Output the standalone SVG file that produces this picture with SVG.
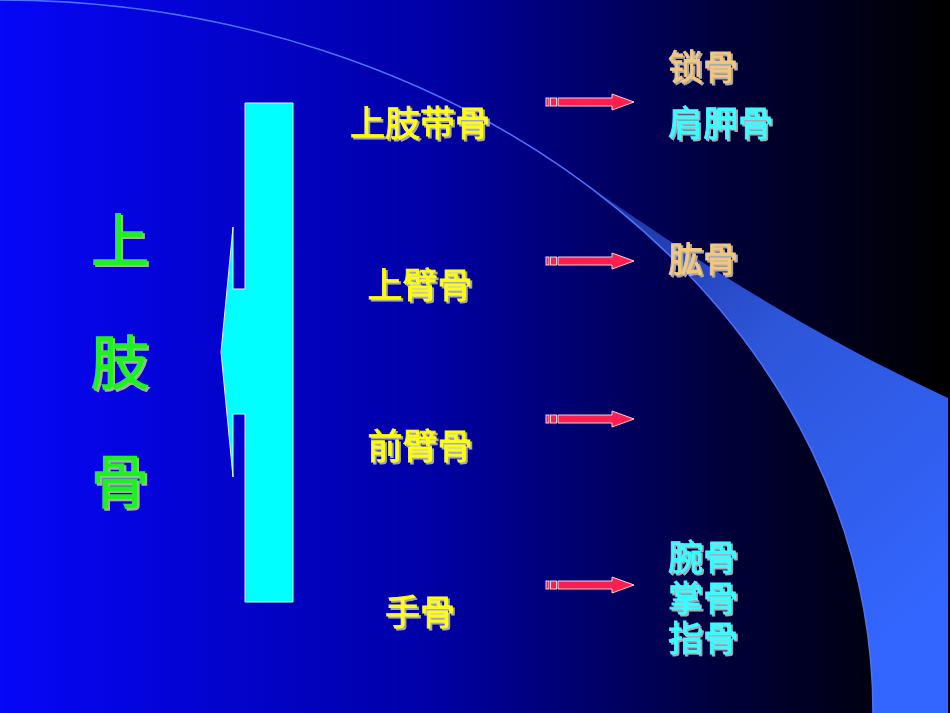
<svg xmlns="http://www.w3.org/2000/svg" width="950" height="713" viewBox="0 0 950 713">
<defs>
<linearGradient id="bg" x1="0" y1="0" x2="1" y2="0">
<stop offset="0" stop-color="#0606f8"/>
<stop offset="0.45" stop-color="#0000a6"/>
<stop offset="0.8" stop-color="#00002e"/>
<stop offset="1" stop-color="#000000"/>
</linearGradient>
<linearGradient id="wedge" x1="560" y1="160" x2="948" y2="600" gradientUnits="userSpaceOnUse">
<stop offset="0" stop-color="#1a2a90"/>
<stop offset="0.45" stop-color="#2d55d8"/>
<stop offset="1" stop-color="#3366ff"/>
</linearGradient>
<filter id="sh" x="-10%" y="-10%" width="130%" height="130%">
<feFlood flood-color="#a8a8b8"/>
<feComposite in2="SourceAlpha" operator="in"/>
<feOffset dx="2" dy="2" result="s"/>
<feMerge><feMergeNode in="s"/><feMergeNode in="SourceGraphic"/></feMerge>
</filter>
<style>
text{font-family:"Noto Sans CJK SC","Noto Sans CJK TC",sans-serif;font-weight:400;filter:url(#sh);stroke-width:0.9}
.big{font-size:58px;fill:#22ee22;stroke:#22ee22;text-anchor:middle;stroke-width:1.5}
.mid{font-size:35px;fill:#ffff00;stroke:#ffff00;text-anchor:middle}
.tan{font-size:35px;fill:#f2c87a;stroke:#f2c87a}
.cy{font-size:35px;fill:#33ffff;stroke:#33ffff}
.arr{fill:#ff1e50;stroke:#ffd0dc;stroke-width:1}
</style>
</defs>
<rect width="950" height="713" fill="url(#bg)"/>
<path d="M555,163 C640,220 760,310 948,398 L948,713 L873,713 A873,713 0 0 0 555,163 Z" fill="url(#wedge)"/>
<path d="M0,0 A873,713 0 0 1 873,713" fill="none" stroke="#4a72ff" stroke-width="1.5"/>

<g id="bracket">
<polygon points="245,103 293,103 293,602 245,602 245,414 233,414 233,477 221,352 233,227 233,289 245,289" fill="#00ffff" stroke="#d8ffff" stroke-width="1"/>
</g>

<g id="title">
<text class="big" x="120" y="262">上</text>
<text class="big" x="120" y="384">肢</text>
<text class="big" x="120" y="503">骨</text>
</g>

<g id="n-shangzhidaigu"><text class="mid" x="420" y="136">上肢带骨</text></g>
<g id="n-shangbigu"><text class="mid" x="420" y="298">上臂骨</text></g>
<g id="n-qianbigu"><text class="mid" x="420" y="459">前臂骨</text></g>
<g id="n-shougu"><text class="mid" x="420" y="625">手骨</text></g>

<g id="r-suogu"><text class="tan" x="668" y="80">锁骨</text></g>
<g id="r-jianjiagu"><text class="cy" x="668" y="136">肩胛骨</text></g>
<g id="r-honggu"><text class="tan" x="668" y="272">肱骨</text></g>
<g id="r-hand">
<text class="cy" x="668" y="570">腕骨</text>
<text class="cy" x="668" y="611">掌骨</text>
<text class="cy" x="668" y="651">指骨</text>
</g>

<g id="connectors">
<g transform="translate(0,102)">
<rect class="arr" x="546" y="-4" width="3" height="8"/><rect class="arr" x="550.5" y="-4" width="6" height="8"/>
<polygon class="arr" points="558,-4 612,-4 612,-8 634,0 612,8 612,4 558,4"/>
</g>
<g transform="translate(0,261)">
<rect class="arr" x="546" y="-4" width="3" height="8"/><rect class="arr" x="550.5" y="-4" width="6" height="8"/>
<polygon class="arr" points="558,-4 612,-4 612,-8 634,0 612,8 612,4 558,4"/>
</g>
<g transform="translate(0,419)">
<rect class="arr" x="546" y="-4" width="3" height="8"/><rect class="arr" x="550.5" y="-4" width="6" height="8"/>
<polygon class="arr" points="558,-4 612,-4 612,-8 634,0 612,8 612,4 558,4"/>
</g>
<g transform="translate(0,585)">
<rect class="arr" x="546" y="-4" width="3" height="8"/><rect class="arr" x="550.5" y="-4" width="6" height="8"/>
<polygon class="arr" points="558,-4 612,-4 612,-8 634,0 612,8 612,4 558,4"/>
</g>
</g>
</svg>
